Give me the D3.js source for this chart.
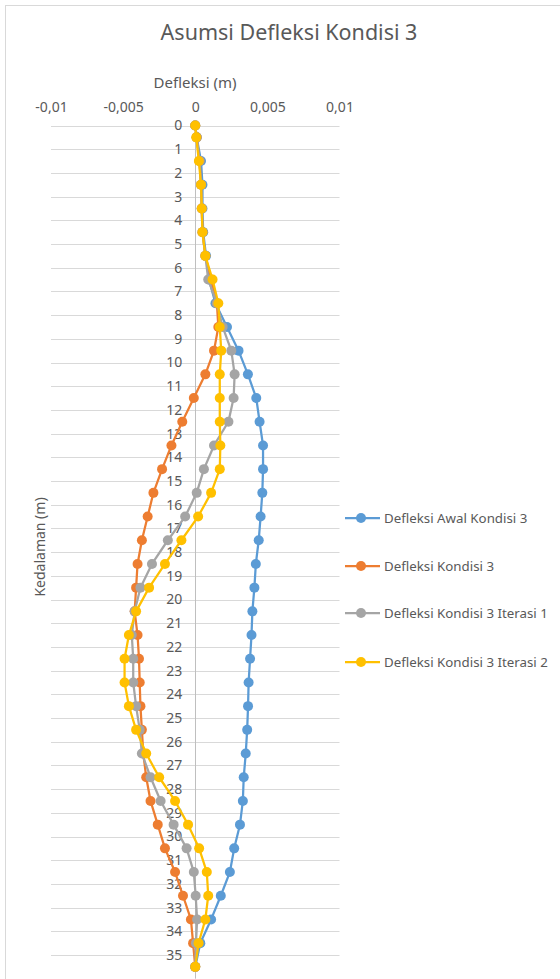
<!DOCTYPE html>
<html>
<head>
<meta charset="utf-8">
<script src="https://cdn.jsdelivr.net/npm/d3@7"></script>
<style>
  html, body { margin: 0; padding: 0; background: #fff; }
  svg { display: block; font-family: "Noto Sans", "Open Sans", sans-serif; }
</style>
</head>
<body>
<svg id="chart" width="560" height="979"></svg>
<script>
// ---- data ----
const depth = [0, 0.5, 1.5, 2.5, 3.5, 4.5, 5.5, 6.5, 7.5, 8.5, 9.5, 10.5, 11.5, 12.5, 13.5, 14.5, 15.5, 16.5, 17.5, 18.5, 19.5, 20.5, 21.5, 22.5, 23.5, 24.5, 25.5, 26.5, 27.5, 28.5, 29.5, 30.5, 31.5, 32.5, 33.5, 34.5, 35.5];
const defleksiAwal = [0, 0.0001, 0.0004, 0.0005, 0.0005, 0.00055, 0.00075, 0.00095, 0.0014, 0.0022, 0.003, 0.00365, 0.00423, 0.00446, 0.0047, 0.0047, 0.00465, 0.00453, 0.0044, 0.0042, 0.0041, 0.00396, 0.0039, 0.0038, 0.0037, 0.00366, 0.0036, 0.0035, 0.00336, 0.0033, 0.0031, 0.0027, 0.0024, 0.00177, 0.0011, 0.00035, 0];
const defleksiKondisi = [0, 0.0001, 0.0003, 0.0004, 0.00045, 0.0005, 0.0007, 0.0011, 0.0015, 0.0016, 0.0013, 0.0007, -0.0001, -0.0009, -0.00165, -0.0023, -0.0029, -0.0033, -0.0037, -0.004, -0.0041, -0.0042, -0.004, -0.0039, -0.00385, -0.0038, -0.0037, -0.0036, -0.0034, -0.0031, -0.0026, -0.0021, -0.0014, -0.00085, -0.0003, -0.00015, 0];
const defleksiIterasi1 = [0, 0.0001, 0.0003, 0.0004, 0.00045, 0.0005, 0.0007, 0.0009, 0.0015, 0.0019, 0.0025, 0.00273, 0.00266, 0.0023, 0.0013, 0.0006, 0.0001, -0.0007, -0.0019, -0.003, -0.0038, -0.0042, -0.0044, -0.0043, -0.0043, -0.0041, -0.00385, -0.0037, -0.0031, -0.0024, -0.0015, -0.0006, -0.0001, 0.00003, 0.00013, 0.00005, 0];
const defleksiIterasi2 = [0, 0.00007, 0.00025, 0.0004, 0.00045, 0.0005, 0.0007, 0.0012, 0.0016, 0.0017, 0.0018, 0.0017, 0.0017, 0.0017, 0.00174, 0.0017, 0.0011, 0.0002, -0.00096, -0.0021, -0.0032, -0.0041, -0.0046, -0.0049, -0.0049, -0.0046, -0.0041, -0.0034, -0.0025, -0.0014, -0.0005, 0.00027, 0.0008, 0.0009, 0.0007, 0.00023, 0];
const seriesNames = ["Defleksi Awal Kondisi 3", "Defleksi Kondisi 3", "Defleksi Kondisi 3 Iterasi 1", "Defleksi Kondisi 3 Iterasi 2"];
const seriesColors = ["#5B9BD5", "#ED7D31", "#A5A5A5", "#FFC000"];
const xTicks = [-0.01, -0.005, 0, 0.005, 0.01];
const yTicks = [0, 1, 2, 3, 4, 5, 6, 7, 8, 9, 10, 11, 12, 13, 14, 15, 16, 17, 18, 19, 20, 21, 22, 23, 24, 25, 26, 27, 28, 29, 30, 31, 32, 33, 34, 35];
const chartTitle = "Asumsi Defleksi Kondisi 3";
const xTitle = "Defleksi (m)";
const yTitle = "Kedalaman (m)";

const seriesValues = [defleksiAwal, defleksiKondisi, defleksiIterasi1, defleksiIterasi2];

// ---- drawing ----
const svg = d3.select("#chart");
const textColor = "#595959";

svg.append("rect").attr("x", 5.5).attr("y", 5.5).attr("width", 700).attr("height", 1100)
  .attr("fill", "#fff").attr("stroke", "#d9d9d9");

const x = d3.scaleLinear().domain([-0.01, 0.01]).range([51, 339.5]);
const y = d3.scaleLinear().domain([0, 35]).range([125.5, 955]);

const loc = d3.formatLocale({decimal: ",", thousands: ".", grouping: [3], currency: ["", ""], minus: "-"});
const fmt = loc.format("~g");

// gridlines
svg.append("g").selectAll("line").data(yTicks).join("line")
  .attr("x1", x(-0.01)).attr("x2", x(0.01))
  .attr("y1", d => Math.round(y(d)) + 0.5).attr("y2", d => Math.round(y(d)) + 0.5)
  .attr("stroke", "#d9d9d9").attr("stroke-width", 1);

// vertical axis line at 0
svg.append("line")
  .attr("x1", Math.round(x(0)) + 0.5).attr("x2", Math.round(x(0)) + 0.5)
  .attr("y1", y(0)).attr("y2", y(36))
  .attr("stroke", "#bfbfbf").attr("stroke-width", 1);

// top x axis
const xAxis = d3.axisTop(x).tickValues(xTicks).tickFormat(fmt).tickSize(0).tickPadding(14);
const gx = svg.append("g").attr("transform", `translate(0,${y(0)})`).call(xAxis);
gx.select(".domain").remove();
gx.selectAll("text").attr("fill", textColor).style("font-size", "14px")
  .style("font-family", '"Noto Sans", sans-serif');

// y axis labels at x = 0
const yAxis = d3.axisLeft(y).tickValues(yTicks).tickFormat(d => d).tickSize(0).tickPadding(13);
const gy = svg.append("g").attr("transform", `translate(${x(0)},0)`).call(yAxis);
gy.select(".domain").remove();
gy.selectAll("text").attr("fill", textColor).style("font-size", "14px")
  .style("font-family", '"Noto Sans", sans-serif');

// series
const line = d3.line().x(d => x(d[1])).y(d => y(d[0]));
seriesValues.forEach((vals, i) => {
  const pts = depth.map((dp, j) => [dp, vals[j]]);
  const g = svg.append("g");
  g.append("path").datum(pts).attr("d", line)
    .attr("fill", "none").attr("stroke", seriesColors[i]).attr("stroke-width", 2.25)
    .attr("stroke-linejoin", "round");
  g.selectAll("circle").data(pts).join("circle")
    .attr("cx", d => x(d[1])).attr("cy", d => y(d[0])).attr("r", 5)
    .attr("fill", seriesColors[i]);
});

// titles
svg.append("text").attr("x", 289).attr("y", 40).attr("text-anchor", "middle")
  .attr("fill", textColor).style("font-size", "21.5px").text(chartTitle);
svg.append("text").attr("x", 195).attr("y", 88).attr("text-anchor", "middle")
  .attr("fill", textColor).style("font-size", "15px").text(xTitle);
svg.append("text").attr("transform", "translate(45,547) rotate(-90)").attr("text-anchor", "middle")
  .attr("fill", textColor).style("font-size", "14px").text(yTitle);

// legend
const legendY = [518, 566, 613, 662];
seriesNames.forEach((name, i) => {
  const g = svg.append("g").attr("transform", `translate(0,${legendY[i]})`);
  g.append("line").attr("x1", 345).attr("x2", 380).attr("y1", 0).attr("y2", 0)
    .attr("stroke", seriesColors[i]).attr("stroke-width", 2.25);
  g.append("circle").attr("cx", 361).attr("cy", 0).attr("r", 5).attr("fill", seriesColors[i]);
  g.append("text").attr("x", 384).attr("y", 0).attr("dy", "0.35em")
    .attr("fill", textColor).style("font-size", "13.3px").text(name);
});
</script>
</body>
</html>
